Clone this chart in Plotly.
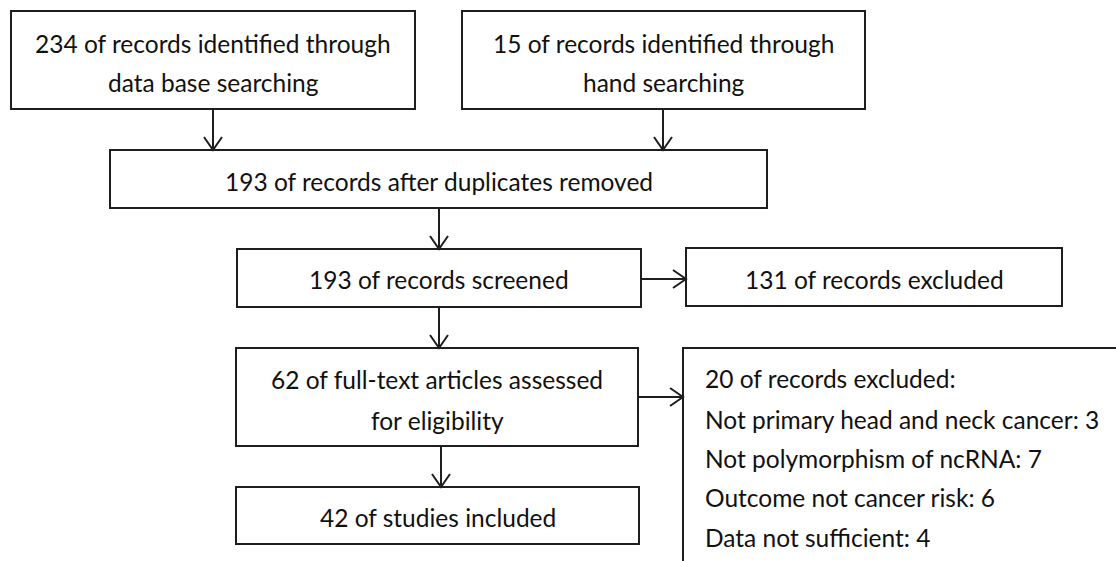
import plotly.graph_objects as go

# ---- content ----
box_titles = [
    ["234 of records identified through", "data base searching"],
    ["15 of records identified through", "hand searching"],
    ["193 of records after duplicates removed"],
    ["193 of records screened"],
    ["131 of records excluded"],
    ["62 of full-text articles assessed", "for eligibility"],
    ["42 of studies included"],
]
excluded_lines = [
    "20 of records excluded:",
    "Not primary head and neck cancer: 3",
    "Not polymorphism of ncRNA: 7",
    "Outcome not cancer risk: 6",
    "Data not sufficient: 4",
]

# ---- geometry (pixel coordinate system of the canvas) ----
W, H = 1116, 561
box_x0 = [11, 462, 110, 237, 686, 236, 236]
box_x1 = [415, 865, 767, 641, 1062, 638, 639]
box_y0 = [11, 11, 150, 249, 248, 348, 487]
box_y1 = [109, 109, 208, 307, 306, 446, 544]
line_y = [[43, 82], [43, 82], [181], [279], [279], [379, 420], [517]]

# arrows: (x0, y0, x1, y1)
arrows = [
    (213, 109, 213, 150),
    (663, 109, 663, 150),
    (439, 208, 439, 249),
    (439, 307, 439, 348),
    (441, 446, 441, 487),
    (641, 279, 686, 279),
    (638, 397, 683, 397),
]
ex_left, ex_top = 683, 348
ex_text_x = 703
ex_text_y = [378, 419, 458, 497, 537]

LINE = dict(color="#1e1e1e", width=2)
FONT = dict(family="Lato, 'Open Sans', sans-serif", size=24.5, color="#111111")

fig = go.Figure()
fig.add_trace(go.Scatter(x=[0, W], y=[0, H], mode="markers",
                         marker=dict(opacity=0), hoverinfo="skip", showlegend=False))

shapes = []
annotations = []
for i, lines in enumerate(box_titles):
    shapes.append(dict(type="rect", xref="x", yref="y",
                       x0=box_x0[i], x1=box_x1[i], y0=box_y0[i], y1=box_y1[i],
                       line=LINE, fillcolor="rgba(0,0,0,0)"))
    cx = (box_x0[i] + box_x1[i]) / 2
    for t, yy in zip(lines, line_y[i]):
        annotations.append(dict(x=cx, y=yy, xref="x", yref="y", text=t,
                                showarrow=False, xanchor="center", yanchor="middle",
                                font=FONT))

# open box on the right (cut off at canvas edge)
shapes.append(dict(type="path", xref="x", yref="y",
                   path=f"M {ex_left} {H} L {ex_left} {ex_top} L {W} {ex_top}",
                   line=LINE))
for t, yy in zip(excluded_lines, ex_text_y):
    annotations.append(dict(x=ex_text_x, y=yy, xref="x", yref="y", text=t,
                            showarrow=False, xanchor="left", yanchor="middle",
                            font=FONT))

# arrows with open V heads
HL, HW = 13, 9
for (x0, y0, x1, y1) in arrows:
    if x0 == x1:  # vertical, pointing down
        head = f"M {x1-HW} {y1-HL} L {x1} {y1} L {x1+HW} {y1-HL}"
    else:  # horizontal, pointing right
        head = f"M {x1-HL} {y1-HW} L {x1} {y1} L {x1-HL} {y1+HW}"
    shapes.append(dict(type="path", xref="x", yref="y",
                       path=f"M {x0} {y0} L {x1} {y1} " + head, line=LINE))

fig.update_layout(
    width=W, height=H, autosize=False,
    margin=dict(l=0, r=0, t=0, b=0),
    paper_bgcolor="white", plot_bgcolor="white",
    xaxis=dict(range=[0, W], visible=False, fixedrange=True),
    yaxis=dict(range=[H, 0], visible=False, fixedrange=True),
    shapes=shapes, annotations=annotations, showlegend=False,
)

fig.write_html("out.html", config={"displayModeBar": False, "staticPlot": True},
               post_script="document.body.style.margin='0';")
